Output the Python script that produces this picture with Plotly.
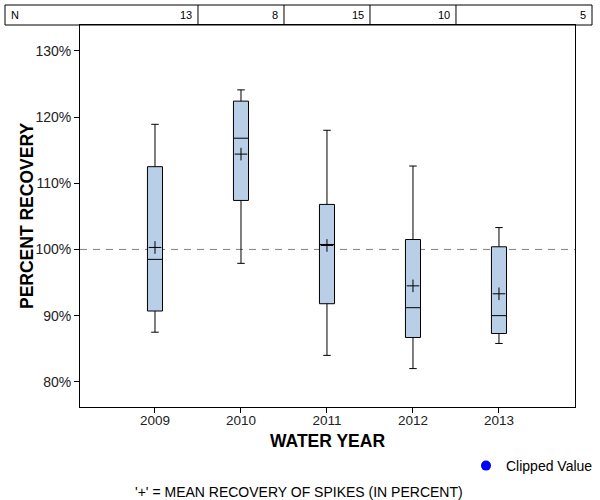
import plotly.graph_objects as go

years = [2009, 2010, 2011, 2012, 2013]
n_counts = [13, 8, 15, 10, 5]
whisker_low = [87.5, 97.9, 84.0, 82.0, 85.8]
q1 = [90.7, 107.4, 91.8, 86.7, 87.3]
median = [98.5, 116.8, 100.75, 91.2, 90.0]
q3 = [112.5, 122.4, 106.8, 101.5, 100.4]
whisker_high = [118.9, 124.1, 118.0, 112.6, 103.3]
mean = [100.3, 114.4, 100.6, 94.5, 93.3]
y_ticks = [80, 90, 100, 110, 120, 130]

FONT = "Arial, Liberation Sans, sans-serif"
L, R, T, B = 80, 25, 25, 93
W, H = 600, 500
pw, ph = W - L - R, H - T - B

def px_x(p):
    return (p - L) / pw

def px_y(p):
    return (H - B - p) / ph

fig = go.Figure()
fig.add_trace(go.Box(
    x=years, q1=q1, median=median, q3=q3,
    lowerfence=whisker_low, upperfence=whisker_high,
    fillcolor="#B9CFE8", line=dict(color="black", width=1),
    width=0.175, whiskerwidth=0.5, boxpoints=False, showlegend=False,
    hoverinfo="skip",
))
fig.add_trace(go.Scatter(
    x=years, y=mean, mode="markers",
    marker=dict(symbol="cross-thin", size=9, line=dict(color="black", width=1), color="black"),
    showlegend=False, hoverinfo="skip",
))
fig.add_trace(go.Scatter(
    x=[None], y=[None], mode="markers", name="Clipped Value",
    marker=dict(color="blue", size=10, symbol="circle"),
))

shapes = [
    dict(type="line", xref="paper", yref="y", x0=0, x1=1, y0=100, y1=100,
         line=dict(color="#808080", width=1, dash="7px,6px"), layer="below"),
    dict(type="rect", xref="paper", yref="paper", x0=px_x(5), x1=px_x(592),
         y0=1, y1=px_y(5), line=dict(color="black", width=1)),
]
for i in range(len(years) - 1):
    xb = (years[i] + years[i + 1]) / 2
    shapes.append(dict(type="line", xref="x", yref="paper", x0=xb, x1=xb,
                       y0=1, y1=px_y(5), line=dict(color="black", width=1)))

annotations = [
    dict(text="N", xref="paper", yref="paper", x=px_x(9), y=px_y(15),
         xanchor="left", yanchor="middle", showarrow=False,
         font=dict(family=FONT, size=11, color="black")),
]
right_edges = [(years[i] + years[i + 1]) / 2 for i in range(len(years) - 1)]
for i, n in enumerate(n_counts):
    if i < len(right_edges):
        annotations.append(dict(text=str(n), xref="x", yref="paper", x=right_edges[i],
                                xshift=-4, y=px_y(15), xanchor="right", yanchor="middle",
                                showarrow=False, font=dict(family=FONT, size=11, color="black")))
    else:
        annotations.append(dict(text=str(n), xref="paper", yref="paper", x=px_x(592),
                                xshift=-4, y=px_y(15), xanchor="right", yanchor="middle",
                                showarrow=False, font=dict(family=FONT, size=11, color="black")))

annotations += [
    dict(text="<b>WATER YEAR</b>", xref="paper", yref="paper", x=0.5, y=px_y(441),
         xanchor="center", yanchor="middle", showarrow=False,
         font=dict(family=FONT, size=17.5, color="black")),
    dict(text="<b>PERCENT RECOVERY</b>", xref="paper", yref="paper", x=px_x(27), y=0.5,
         xanchor="center", yanchor="middle", showarrow=False, textangle=-90,
         font=dict(family=FONT, size=17.5, color="black")),
    dict(text="'+' = MEAN RECOVERY OF SPIKES (IN PERCENT)", xref="paper", yref="paper",
         x=px_x(299), y=px_y(492), xanchor="center", yanchor="middle", showarrow=False,
         font=dict(family=FONT, size=14, color="black")),
]

fig.update_layout(
    width=W, height=H,
    margin=dict(l=L, r=R, t=T, b=B, pad=0, autoexpand=False),
    paper_bgcolor="white", plot_bgcolor="white",
    font=dict(family=FONT, size=12, color="black"),
    shapes=shapes, annotations=annotations,
    legend=dict(x=px_x(598), y=px_y(466), xanchor="right", yanchor="middle",
                font=dict(family=FONT, size=14, color="black"), bgcolor="rgba(0,0,0,0)",
                itemwidth=30),
    xaxis=dict(range=[2008.128, 2013.884], tickvals=years, ticktext=[str(y) for y in years],
               showgrid=False, zeroline=False, showline=True, linecolor="black", linewidth=1,
               mirror=True, ticks="outside", ticklen=5, tickcolor="black",
               ticklabelstandoff=-4,
               tickfont=dict(family=FONT, size=13.5, color="#222")),
    yaxis=dict(range=[76.2, 133.9], tickvals=y_ticks, ticktext=[f"{v}%" for v in y_ticks],
               showgrid=False, zeroline=False, showline=True, linecolor="black", linewidth=1,
               mirror=True, ticks="outside", ticklen=5, tickcolor="black",
               tickfont=dict(family=FONT, size=14, color="#222")),
)

fig.write_html("out.html", config={"displayModeBar": False},
               post_script="document.body.style.margin='0';document.body.style.overflow='hidden';")
